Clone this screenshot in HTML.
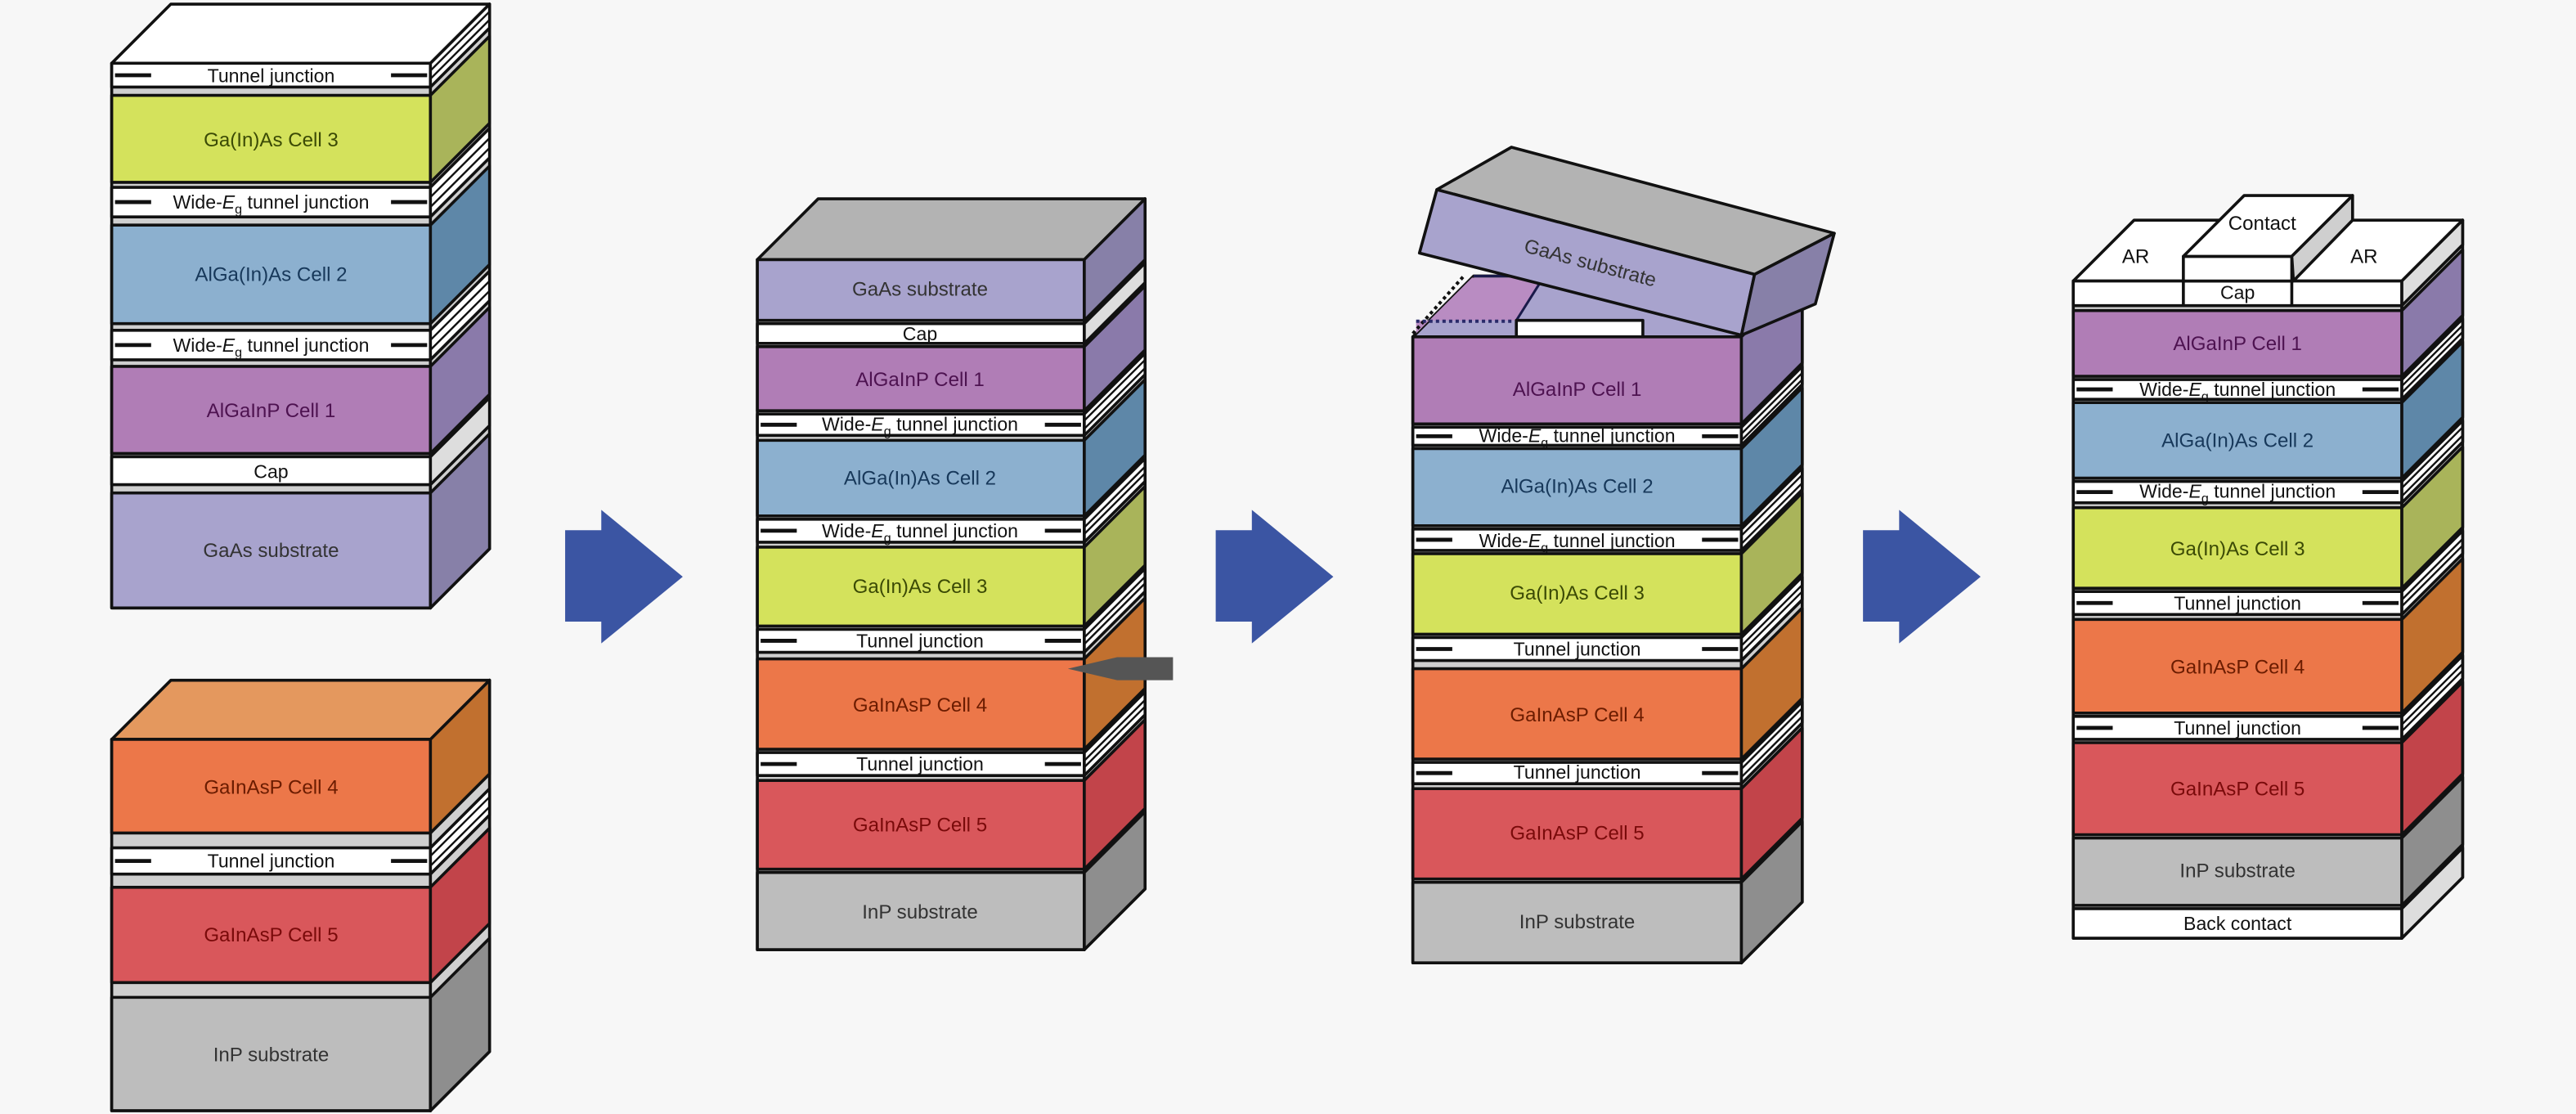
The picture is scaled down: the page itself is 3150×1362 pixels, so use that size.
<!DOCTYPE html>
<html><head><meta charset="utf-8"><style>
html,body{margin:0;padding:0;background:#f7f7f7;}
svg{display:block;}
text{font-family:"Liberation Sans",sans-serif;text-anchor:middle;}
.c{font-size:12px;}
.t{font-size:11.5px;fill:#111;}
.o{stroke:#111;stroke-width:1.8;stroke-linejoin:round;}
.s{stroke:#111;stroke-width:1.2;}
.d{stroke:#111;stroke-width:2.4;}
</style></head><body>
<svg width="3150" height="1362" viewBox="0 0 1568 678" preserveAspectRatio="none" xmlns="http://www.w3.org/2000/svg">
<rect width="1568" height="678" fill="#f7f7f7"/>

<!-- ============ STACK 1 ============ -->
<g class="o">
<rect x="68" y="38.5" width="194" height="331.5" fill="#cfcfcf"/>
<polygon points="262,38.5 298,2.5 298,334 262,370" fill="#cfcfcf"/>
<polygon points="68,38.5 104,2.5 298,2.5 262,38.5" fill="#fff"/>
<rect x="68" y="38.5" width="194" height="14.5" fill="#fff"/><polygon points="262,38.5 298,2.5 298,17 262,53" fill="#fff"/>
<rect x="68" y="58" width="194" height="53" fill="#d4e25c"/><polygon points="262,58 298,22 298,75 262,111" fill="#a9b45a"/>
<rect x="68" y="114" width="194" height="18" fill="#fff"/><polygon points="262,114 298,78 298,96 262,132" fill="#fff"/>
<rect x="68" y="137" width="194" height="60" fill="#8cb0cf"/><polygon points="262,137 298,101 298,161 262,197" fill="#5e87a8"/>
<rect x="68" y="201" width="194" height="18" fill="#fff"/><polygon points="262,201 298,165 298,183 262,219" fill="#fff"/>
<rect x="68" y="223" width="194" height="53" fill="#b07db6"/><polygon points="262,223 298,187 298,240 262,276" fill="#8a7aaa"/>
<rect x="68" y="278" width="194" height="17" fill="#fff"/><polygon points="262,278 298,242 298,259 262,295" fill="#ddd"/>
<rect x="68" y="300" width="194" height="70" fill="#a8a3cd"/><polygon points="262,300 298,264 298,334 262,370" fill="#8780a8"/>
</g>
<g class="s">
<line x1="262" y1="43" x2="298" y2="7"/><line x1="262" y1="48" x2="298" y2="12"/>
<line x1="262" y1="120" x2="298" y2="84"/><line x1="262" y1="126" x2="298" y2="90"/>
<line x1="262" y1="207" x2="298" y2="171"/><line x1="262" y1="213" x2="298" y2="177"/>
</g>
<g class="d">
<line x1="70" y1="45.8" x2="92" y2="45.8"/><line x1="238" y1="45.8" x2="260" y2="45.8"/>
<line x1="70" y1="123" x2="92" y2="123"/><line x1="238" y1="123" x2="260" y2="123"/>
<line x1="70" y1="210" x2="92" y2="210"/><line x1="238" y1="210" x2="260" y2="210"/>
</g>
<text class="t" x="165" y="50">Tunnel junction</text>
<text class="c" x="165" y="89" fill="#3b4a05">Ga(In)As Cell 3</text>
<text class="t" x="165" y="127">Wide-<tspan font-style="italic">E</tspan><tspan font-size="8" dy="3">g</tspan><tspan dy="-3"> tunnel junction</tspan></text>
<text class="c" x="165" y="171" fill="#17385a">AlGa(In)As Cell 2</text>
<text class="t" x="165" y="214">Wide-<tspan font-style="italic">E</tspan><tspan font-size="8" dy="3">g</tspan><tspan dy="-3"> tunnel junction</tspan></text>
<text class="c" x="165" y="254" fill="#4d1250">AlGaInP Cell 1</text>
<text class="t" x="165" y="291">Cap</text>
<text class="c" x="165" y="339" fill="#333">GaAs substrate</text>

<!-- ============ STACK 2 ============ -->
<g class="o">
<rect x="68" y="450" width="194" height="226" fill="#cfcfcf"/>
<polygon points="262,450 298,414 298,640 262,676" fill="#cfcfcf"/>
<polygon points="68,450 104,414 298,414 262,450" fill="#e4985e"/>
<rect x="68" y="450" width="194" height="57" fill="#ec7749"/><polygon points="262,450 298,414 298,471 262,507" fill="#c1702f"/>
<rect x="68" y="516" width="194" height="16" fill="#fff"/><polygon points="262,516 298,480 298,496 262,532" fill="#fff"/>
<rect x="68" y="540" width="194" height="58" fill="#d9575b"/><polygon points="262,540 298,504 298,562 262,598" fill="#c2444a"/>
<rect x="68" y="607" width="194" height="69" fill="#bdbdbd"/><polygon points="262,607 298,571 298,640 262,676" fill="#8e8e8e"/>
</g>
<g class="s"><line x1="262" y1="521" x2="298" y2="485"/><line x1="262" y1="527" x2="298" y2="491"/></g>
<g class="d"><line x1="70" y1="524" x2="92" y2="524"/><line x1="238" y1="524" x2="260" y2="524"/></g>
<text class="c" x="165" y="483" fill="#6b1c00">GaInAsP Cell 4</text>
<text class="t" x="165" y="528">Tunnel junction</text>
<text class="c" x="165" y="573" fill="#7a0a0a">GaInAsP Cell 5</text>
<text class="c" x="165" y="646" fill="#333">InP substrate</text>

<!-- ============ ARROWS ============ -->
<g fill="#3b55a3">
<polygon points="344,322.7 366,322.7 366,310.3 415.6,351 366,391.6 366,378.3 344,378.3"/>
<polygon points="740,322.7 762,322.7 762,310.3 811.6,351 762,391.6 762,378.3 740,378.3"/>
<polygon points="1134,322.7 1156,322.7 1156,310.3 1205.6,351 1156,391.6 1156,378.3 1134,378.3"/>
</g>

<!-- ============ STACK 3 ============ -->
<g class="o">
<rect x="461" y="158" width="199" height="420" fill="#cfcfcf"/>
<polygon points="660,158 697,121 697,541 660,578" fill="#cfcfcf"/>
<polygon points="461,158 498,121 697,121 660,158" fill="#b3b3b3"/>
<rect x="461" y="158" width="199" height="37" fill="#a8a3cd"/><polygon points="660,158 697,121 697,158 660,195" fill="#8780a8"/>
<rect x="461" y="197" width="199" height="12" fill="#fff"/><polygon points="660,197 697,160 697,172 660,209" fill="#ddd"/>
<rect x="461" y="211" width="199" height="39" fill="#b07db6"/><polygon points="660,211 697,174 697,213 660,250" fill="#8a7aaa"/>
<rect x="461" y="252" width="199" height="13" fill="#fff"/><polygon points="660,252 697,215 697,228 660,265" fill="#fff"/>
<rect x="461" y="268" width="199" height="46" fill="#8cb0cf"/><polygon points="660,268 697,231 697,277 660,314" fill="#5e87a8"/>
<rect x="461" y="316" width="199" height="14" fill="#fff"/><polygon points="660,316 697,279 697,293 660,330" fill="#fff"/>
<rect x="461" y="333" width="199" height="48" fill="#d4e25c"/><polygon points="660,333 697,296 697,344 660,381" fill="#a9b45a"/>
<rect x="461" y="383" width="199" height="14" fill="#fff"/><polygon points="660,383 697,346 697,360 660,397" fill="#fff"/>
<rect x="461" y="401" width="199" height="55" fill="#ec7749"/><polygon points="660,401 697,364 697,419 660,456" fill="#c1702f"/>
<rect x="461" y="458" width="199" height="14" fill="#fff"/><polygon points="660,458 697,421 697,435 660,472" fill="#fff"/>
<rect x="461" y="475" width="199" height="54" fill="#d9575b"/><polygon points="660,475 697,438 697,492 660,529" fill="#c2444a"/>
<rect x="461" y="531" width="199" height="47" fill="#bdbdbd"/><polygon points="660,531 697,494 697,541 660,578" fill="#8e8e8e"/>
</g>
<g class="s">
<line x1="660" y1="256" x2="697" y2="219"/><line x1="660" y1="261" x2="697" y2="224"/>
<line x1="660" y1="321" x2="697" y2="284"/><line x1="660" y1="325" x2="697" y2="288"/>
<line x1="660" y1="388" x2="697" y2="351"/><line x1="660" y1="392" x2="697" y2="355"/>
<line x1="660" y1="463" x2="697" y2="426"/><line x1="660" y1="467" x2="697" y2="430"/>
</g>
<g class="d">
<line x1="463" y1="258.5" x2="485" y2="258.5"/><line x1="636" y1="258.5" x2="658" y2="258.5"/>
<line x1="463" y1="323" x2="485" y2="323"/><line x1="636" y1="323" x2="658" y2="323"/>
<line x1="463" y1="390" x2="485" y2="390"/><line x1="636" y1="390" x2="658" y2="390"/>
<line x1="463" y1="465" x2="485" y2="465"/><line x1="636" y1="465" x2="658" y2="465"/>
</g>
<polygon points="650,407 680,400 714,400 714,414 680,414" fill="#555"/>
<text class="c" x="560" y="180" fill="#333">GaAs substrate</text>
<text class="t" x="560" y="207">Cap</text>
<text class="c" x="560" y="235" fill="#4d1250">AlGaInP Cell 1</text>
<text class="t" x="560" y="262">Wide-<tspan font-style="italic">E</tspan><tspan font-size="8" dy="3">g</tspan><tspan dy="-3"> tunnel junction</tspan></text>
<text class="c" x="560" y="295" fill="#17385a">AlGa(In)As Cell 2</text>
<text class="t" x="560" y="327">Wide-<tspan font-style="italic">E</tspan><tspan font-size="8" dy="3">g</tspan><tspan dy="-3"> tunnel junction</tspan></text>
<text class="c" x="560" y="361" fill="#3b4a05">Ga(In)As Cell 3</text>
<text class="t" x="560" y="394">Tunnel junction</text>
<text class="c" x="560" y="433" fill="#6b1c00">GaInAsP Cell 4</text>
<text class="t" x="560" y="469">Tunnel junction</text>
<text class="c" x="560" y="506" fill="#7a0a0a">GaInAsP Cell 5</text>
<text class="c" x="560" y="559" fill="#333">InP substrate</text>

<!-- ============ STACK 4 ============ -->
<g class="o">
<rect x="860" y="205" width="200" height="381" fill="#cfcfcf"/>
<polygon points="1060,205 1097,168 1097,549 1060,586" fill="#cfcfcf"/>
<polygon points="860,205 897,168 1097,168 1060,205" fill="#a8a3cd"/>
</g>
<polygon points="862,203 896,169 940,169 923,195 862,195" fill="#b98cc2"/>
<path d="M860,203 L891,168" stroke="#111" stroke-width="2" stroke-dasharray="2,2" fill="none"/>
<path d="M862,195.5 L922,195.5" stroke="#2a2a6a" stroke-width="2" stroke-dasharray="2,2" fill="none"/>
<path d="M897,168 L940,168 L923,195" stroke="#1a1a4a" stroke-width="1.5" fill="none"/>
<rect x="923" y="195" width="77" height="10" fill="#fff" class="o"/>
<g class="o">
<rect x="860" y="205" width="200" height="53" fill="#b07db6"/><polygon points="1060,205 1097,168 1097,221 1060,258" fill="#8a7aaa"/>
<rect x="860" y="260" width="200" height="11" fill="#fff"/><polygon points="1060,260 1097,223 1097,234 1060,271" fill="#fff"/>
<rect x="860" y="273" width="200" height="47" fill="#8cb0cf"/><polygon points="1060,273 1097,236 1097,283 1060,320" fill="#5e87a8"/>
<rect x="860" y="322" width="200" height="13" fill="#fff"/><polygon points="1060,322 1097,285 1097,298 1060,335" fill="#fff"/>
<rect x="860" y="337" width="200" height="49" fill="#d4e25c"/><polygon points="1060,337 1097,300 1097,349 1060,386" fill="#a9b45a"/>
<rect x="860" y="388" width="200" height="14" fill="#fff"/><polygon points="1060,388 1097,351 1097,365 1060,402" fill="#fff"/>
<rect x="860" y="407" width="200" height="55" fill="#ec7749"/><polygon points="1060,407 1097,370 1097,425 1060,462" fill="#c1702f"/>
<rect x="860" y="464" width="200" height="13" fill="#fff"/><polygon points="1060,464 1097,427 1097,440 1060,477" fill="#fff"/>
<rect x="860" y="480" width="200" height="55" fill="#d9575b"/><polygon points="1060,480 1097,443 1097,498 1060,535" fill="#c2444a"/>
<rect x="860" y="537" width="200" height="49" fill="#bdbdbd"/><polygon points="1060,537 1097,500 1097,549 1060,586" fill="#8e8e8e"/>
</g>
<g class="s">
<line x1="1060" y1="264" x2="1097" y2="227"/><line x1="1060" y1="268" x2="1097" y2="231"/>
<line x1="1060" y1="326" x2="1097" y2="289"/><line x1="1060" y1="331" x2="1097" y2="294"/>
<line x1="1060" y1="393" x2="1097" y2="356"/><line x1="1060" y1="397" x2="1097" y2="360"/>
<line x1="1060" y1="468" x2="1097" y2="431"/><line x1="1060" y1="473" x2="1097" y2="436"/>
</g>
<g class="d">
<line x1="862" y1="265.5" x2="884" y2="265.5"/><line x1="1036" y1="265.5" x2="1058" y2="265.5"/>
<line x1="862" y1="328.5" x2="884" y2="328.5"/><line x1="1036" y1="328.5" x2="1058" y2="328.5"/>
<line x1="862" y1="395" x2="884" y2="395"/><line x1="1036" y1="395" x2="1058" y2="395"/>
<line x1="862" y1="470.5" x2="884" y2="470.5"/><line x1="1036" y1="470.5" x2="1058" y2="470.5"/>
</g>
<!-- tilted GaAs block -->
<g class="o">
<polygon points="874.6,115.4 920,89.6 1116.5,142 1068,167" fill="#b3b3b3"/>
<polygon points="874.6,115.4 1068,167 1060,204 864,154" fill="#a8a3cd"/>
<polygon points="1068,167 1116.5,142 1105,185 1060,204" fill="#8780a8"/>
</g>
<text class="c" x="968" y="164" fill="#333" transform="rotate(15 968 160)">GaAs substrate</text>
<text class="c" x="960" y="241" fill="#4d1250">AlGaInP Cell 1</text>
<text class="t" x="960" y="269">Wide-<tspan font-style="italic">E</tspan><tspan font-size="8" dy="3">g</tspan><tspan dy="-3"> tunnel junction</tspan></text>
<text class="c" x="960" y="300" fill="#17385a">AlGa(In)As Cell 2</text>
<text class="t" x="960" y="333">Wide-<tspan font-style="italic">E</tspan><tspan font-size="8" dy="3">g</tspan><tspan dy="-3"> tunnel junction</tspan></text>
<text class="c" x="960" y="365" fill="#3b4a05">Ga(In)As Cell 3</text>
<text class="t" x="960" y="399">Tunnel junction</text>
<text class="c" x="960" y="439" fill="#6b1c00">GaInAsP Cell 4</text>
<text class="t" x="960" y="474">Tunnel junction</text>
<text class="c" x="960" y="511" fill="#7a0a0a">GaInAsP Cell 5</text>
<text class="c" x="960" y="565" fill="#333">InP substrate</text>

<!-- ============ STACK 5 ============ -->
<g class="o">
<rect x="1262" y="171" width="200" height="400" fill="#cfcfcf"/>
<polygon points="1462,171 1499,134 1499,534 1462,571" fill="#cfcfcf"/>
<polygon points="1262,171 1299,134 1499,134 1462,171" fill="#fff"/>
<rect x="1262" y="171" width="200" height="15" fill="#fff"/><polygon points="1462,171 1499,134 1499,149 1462,186" fill="#ddd"/>
<line x1="1329" y1="171" x2="1329" y2="186"/><line x1="1395" y1="171" x2="1395" y2="186"/>
<rect x="1329" y="156" width="66" height="15" fill="#fff"/>
<polygon points="1329,156 1366,119 1432,119 1395,156" fill="#fff"/>
<polygon points="1395,156 1432,119 1432,134 1396,171" fill="#cfcfcf"/>
<rect x="1262" y="189" width="200" height="40" fill="#b07db6"/><polygon points="1462,189 1499,152 1499,192 1462,229" fill="#8a7aaa"/>
<rect x="1262" y="231" width="200" height="12" fill="#fff"/><polygon points="1462,231 1499,194 1499,206 1462,243" fill="#fff"/>
<rect x="1262" y="245" width="200" height="46" fill="#8cb0cf"/><polygon points="1462,245 1499,208 1499,254 1462,291" fill="#5e87a8"/>
<rect x="1262" y="293" width="200" height="13" fill="#fff"/><polygon points="1462,293 1499,256 1499,269 1462,306" fill="#fff"/>
<rect x="1262" y="309" width="200" height="49" fill="#d4e25c"/><polygon points="1462,309 1499,272 1499,321 1462,358" fill="#a9b45a"/>
<rect x="1262" y="360" width="200" height="14" fill="#fff"/><polygon points="1462,360 1499,323 1499,337 1462,374" fill="#fff"/>
<rect x="1262" y="377" width="200" height="57" fill="#ec7749"/><polygon points="1462,377 1499,340 1499,397 1462,434" fill="#c1702f"/>
<rect x="1262" y="436" width="200" height="14" fill="#fff"/><polygon points="1462,436 1499,399 1499,413 1462,450" fill="#fff"/>
<rect x="1262" y="452" width="200" height="56" fill="#d9575b"/><polygon points="1462,452 1499,415 1499,471 1462,508" fill="#c2444a"/>
<rect x="1262" y="510" width="200" height="41" fill="#bdbdbd"/><polygon points="1462,510 1499,473 1499,514 1462,551" fill="#8e8e8e"/>
<rect x="1262" y="553" width="200" height="18" fill="#fff"/><polygon points="1462,553 1499,516 1499,534 1462,571" fill="#ddd"/>
</g>
<g class="s">
<line x1="1462" y1="235" x2="1499" y2="198"/><line x1="1462" y1="239" x2="1499" y2="202"/>
<line x1="1462" y1="297" x2="1499" y2="260"/><line x1="1462" y1="302" x2="1499" y2="265"/>
<line x1="1462" y1="365" x2="1499" y2="328"/><line x1="1462" y1="369" x2="1499" y2="332"/>
<line x1="1462" y1="441" x2="1499" y2="404"/><line x1="1462" y1="445" x2="1499" y2="408"/>
</g>
<g class="d">
<line x1="1264" y1="237" x2="1286" y2="237"/><line x1="1438" y1="237" x2="1460" y2="237"/>
<line x1="1264" y1="299.5" x2="1286" y2="299.5"/><line x1="1438" y1="299.5" x2="1460" y2="299.5"/>
<line x1="1264" y1="367" x2="1286" y2="367"/><line x1="1438" y1="367" x2="1460" y2="367"/>
<line x1="1264" y1="443" x2="1286" y2="443"/><line x1="1438" y1="443" x2="1460" y2="443"/>
</g>
<text class="c" x="1377" y="140" fill="#111">Contact</text>
<text class="c" x="1300" y="160" fill="#111">AR</text>
<text class="c" x="1439" y="160" fill="#111">AR</text>
<text class="t" x="1362" y="182">Cap</text>
<text class="c" x="1362" y="213" fill="#4d1250">AlGaInP Cell 1</text>
<text class="t" x="1362" y="241">Wide-<tspan font-style="italic">E</tspan><tspan font-size="8" dy="3">g</tspan><tspan dy="-3"> tunnel junction</tspan></text>
<text class="c" x="1362" y="272" fill="#17385a">AlGa(In)As Cell 2</text>
<text class="t" x="1362" y="303">Wide-<tspan font-style="italic">E</tspan><tspan font-size="8" dy="3">g</tspan><tspan dy="-3"> tunnel junction</tspan></text>
<text class="c" x="1362" y="338" fill="#3b4a05">Ga(In)As Cell 3</text>
<text class="t" x="1362" y="371">Tunnel junction</text>
<text class="c" x="1362" y="410" fill="#6b1c00">GaInAsP Cell 4</text>
<text class="t" x="1362" y="447">Tunnel junction</text>
<text class="c" x="1362" y="484" fill="#7a0a0a">GaInAsP Cell 5</text>
<text class="c" x="1362" y="534" fill="#333">InP substrate</text>
<text class="t" x="1362" y="566">Back contact</text>
</svg>
</body></html>
